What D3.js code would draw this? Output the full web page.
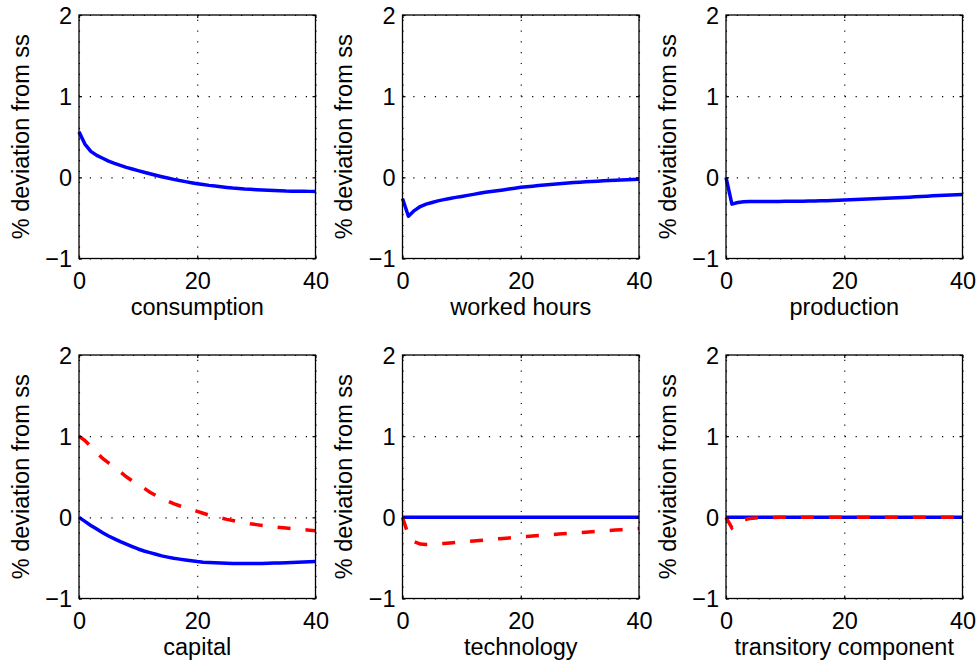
<!DOCTYPE html>
<html>
<head>
<meta charset="utf-8">
<script src="https://cdn.jsdelivr.net/npm/d3@7"></script>
<style>
  body { margin: 0; background: #fff; }
  svg { display: block; font-family: "Liberation Sans", Arial, Helvetica, sans-serif; }
  .tick text { font-size: 23.5px; fill: #000; }
  .axis-label { font-size: 23.5px; fill: #000; }
</style>
</head>
<body>
<div id="chart-area"></div>
<script>
// impulse responses, 41 periods
const periods = [0, 1, 2, 3, 4, 5, 6, 7, 8, 9, 10, 11, 12, 13, 14, 15, 16, 17, 18, 19, 20,
  21, 22, 23, 24, 25, 26, 27, 28, 29, 30, 31, 32, 33, 34, 35, 36, 37, 38, 39, 40];

const xTicks = [0, 20, 40];
const yTicks = [-1, 0, 1, 2];

const panelTitles = ['consumption', 'worked hours', 'production', 'capital', 'technology', 'transitory component'];

const consumption = [0.56, 0.41, 0.32, 0.27, 0.235, 0.20, 0.173, 0.148, 0.123, 0.103, 0.082,
  0.063, 0.045, 0.026, 0.008, -0.009, -0.025, -0.04, -0.053, -0.066, -0.078,
  -0.089, -0.099, -0.107, -0.115, -0.124, -0.132, -0.138, -0.144, -0.148, -0.152,
  -0.156, -0.16, -0.163, -0.166, -0.169, -0.17, -0.171, -0.172, -0.173, -0.173];

const workedHours = [-0.26, -0.48, -0.41, -0.36, -0.33, -0.31, -0.29, -0.275, -0.26, -0.247, -0.235,
  -0.222, -0.21, -0.197, -0.185, -0.175, -0.165, -0.155, -0.145, -0.134, -0.123,
  -0.116, -0.109, -0.102, -0.095, -0.089, -0.082, -0.076, -0.07, -0.065, -0.06,
  -0.055, -0.05, -0.047, -0.043, -0.04, -0.037, -0.034, -0.031, -0.028, -0.025];

const production = [0, -0.33, -0.31, -0.3, -0.298, -0.297, -0.297, -0.297, -0.297, -0.297, -0.296,
  -0.296, -0.295, -0.294, -0.293, -0.292, -0.29, -0.288, -0.286, -0.283, -0.28,
  -0.277, -0.274, -0.271, -0.268, -0.265, -0.262, -0.259, -0.256, -0.252, -0.248,
  -0.244, -0.24, -0.236, -0.232, -0.228, -0.224, -0.22, -0.217, -0.214, -0.21];

const capitalSolid = [0, -0.05, -0.1, -0.145, -0.19, -0.23, -0.265, -0.3, -0.33, -0.36, -0.39,
  -0.415, -0.435, -0.455, -0.475, -0.49, -0.505, -0.515, -0.525, -0.535, -0.545,
  -0.552, -0.557, -0.561, -0.564, -0.567, -0.569, -0.57, -0.57, -0.57, -0.569,
  -0.568, -0.566, -0.564, -0.562, -0.559, -0.556, -0.553, -0.55, -0.547, -0.543];

const capitalDashed = [1.0, 0.947, 0.873, 0.8, 0.725, 0.67, 0.615, 0.56, 0.5, 0.45, 0.405,
  0.36, 0.31, 0.27, 0.23, 0.2, 0.168, 0.143, 0.12, 0.097, 0.074,
  0.05, 0.027, 0.008, -0.008, -0.025, -0.04, -0.055, -0.068, -0.08, -0.09,
  -0.1, -0.11, -0.118, -0.125, -0.132, -0.14, -0.146, -0.152, -0.158, -0.164];

const technologySolid = [0, 0, 0, 0, 0, 0, 0, 0, 0, 0, 0,
  0, 0, 0, 0, 0, 0, 0, 0, 0, 0,
  0, 0, 0, 0, 0, 0, 0, 0, 0, 0,
  0, 0, 0, 0, 0, 0, 0, 0, 0, 0];

const technologyDashed = [0, -0.22, -0.3, -0.33, -0.335, -0.333, -0.328, -0.322, -0.316, -0.311, -0.305,
  -0.299, -0.292, -0.286, -0.279, -0.273, -0.266, -0.26, -0.254, -0.248, -0.242,
  -0.236, -0.23, -0.224, -0.219, -0.213, -0.208, -0.203, -0.198, -0.193, -0.188,
  -0.183, -0.178, -0.172, -0.167, -0.162, -0.157, -0.152, -0.147, -0.142, -0.137];

const transitorySolid = [0, 0, 0, 0, 0, 0, 0, 0, 0, 0, 0,
  0, 0, 0, 0, 0, 0, 0, 0, 0, 0,
  0, 0, 0, 0, 0, 0, 0, 0, 0, 0,
  0, 0, 0, 0, 0, 0, 0, 0, 0, 0];

const transitoryDashed = [0, -0.13, -0.06, -0.03, -0.015, -0.008, -0.004, -0.002, -0.001, 0, 0,
  0, 0, 0, 0, 0, 0, 0, 0, 0, 0,
  0, 0, 0, 0, 0, 0, 0, 0, 0, 0,
  0, 0, 0, 0, 0, 0, 0, 0, 0, 0];

const panels = [
  { title: panelTitles[0], solid: consumption, dashed: null },
  { title: panelTitles[1], solid: workedHours, dashed: null },
  { title: panelTitles[2], solid: production, dashed: null },
  { title: panelTitles[3], solid: capitalSolid, dashed: capitalDashed },
  { title: panelTitles[4], solid: technologySolid, dashed: technologyDashed },
  { title: panelTitles[5], solid: transitorySolid, dashed: transitoryDashed }
];

const chartSize = { width: 979, height: 666 };
const layout = {
  cols: [79, 402.5, 726],
  rows: [15, 355],
  width: 236.5,
  height: 243.5
};

const drawPanel = (svg, panel, i) => {
  const width = layout.width;
  const height = layout.height;
  const g = svg.append('g')
    .attr('transform', `translate(${layout.cols[i % 3]},${layout.rows[Math.floor(i / 3)]})`);

  const x = d3.scaleLinear().domain([0, 40]).range([0, width]);
  const y = d3.scaleLinear().domain([-1, 2]).range([height, 0]);

  // dotted grid
  g.append('g').attr('class', 'grid')
    .attr('transform', `translate(0,${height})`)
    .call(d3.axisBottom(x).tickValues(xTicks).tickSize(-height).tickFormat(''));
  g.append('g').attr('class', 'grid')
    .call(d3.axisLeft(y).tickValues(yTicks).tickSize(-width).tickFormat(''));
  g.selectAll('.grid .domain').remove();
  g.selectAll('.grid line')
    .attr('stroke', '#000')
    .attr('stroke-width', 1.1)
    .attr('stroke-dasharray', '1.2,9.6');

  const line = d3.line()
    .x((d, k) => x(periods[k]))
    .y(d => y(d));

  g.append('path')
    .datum(panel.solid)
    .attr('d', line)
    .attr('fill', 'none')
    .attr('stroke', '#0000ff')
    .attr('stroke-width', 3.5)
    .attr('stroke-linejoin', 'round');

  if (panel.dashed) {
    g.append('path')
      .datum(panel.dashed)
      .attr('d', line)
      .attr('fill', 'none')
      .attr('stroke', '#ff0000')
      .attr('stroke-width', 3.5)
      .attr('stroke-dasharray', '13,15');
  }

  // box + inward ticks
  g.append('rect')
    .attr('width', width)
    .attr('height', height)
    .attr('fill', 'none')
    .attr('stroke', '#000')
    .attr('stroke-width', 1.3);

  const fmt = d3.format('d');
  g.append('g').attr('class', 'x-axis')
    .attr('transform', `translate(0,${height})`)
    .call(d3.axisBottom(x).tickValues(xTicks).tickFormat(fmt).tickSize(-3).tickPadding(14));
  const yAxis = g.append('g').attr('class', 'y-axis')
    .call(d3.axisLeft(y).tickValues(yTicks).tickFormat(fmt).tickSize(-3).tickPadding(7));
  g.append('g').call(d3.axisTop(x).tickValues(xTicks).tickSize(-3).tickFormat(''));
  g.append('g').attr('transform', `translate(${width},0)`)
    .call(d3.axisRight(y).tickValues(yTicks).tickSize(-3).tickFormat(''));
  g.selectAll('.domain').remove();
  g.selectAll('.tick line').filter(function () { return !this.closest('.grid'); })
    .attr('stroke', '#000').attr('stroke-width', 1.2);
  g.selectAll('.tick text').attr('font-family', null).attr('font-size', null);
  yAxis.selectAll('.tick text').attr('dy', '0.36em');

  g.append('text')
    .attr('class', 'axis-label')
    .attr('transform', 'rotate(-90)')
    .attr('x', -height / 2)
    .attr('y', -50.5)
    .attr('text-anchor', 'middle')
    .text('% deviation from ss');

  g.append('text')
    .attr('class', 'axis-label')
    .attr('x', width / 2)
    .attr('y', height + 56.5)
    .attr('text-anchor', 'middle')
    .text(panel.title);
};

const main = () => {
  const svg = d3.select('#chart-area')
    .append('svg')
    .attr('width', chartSize.width)
    .attr('height', chartSize.height);
  panels.forEach((p, i) => drawPanel(svg, p, i));
};
window.onload = main;
</script>
</body>
</html>
